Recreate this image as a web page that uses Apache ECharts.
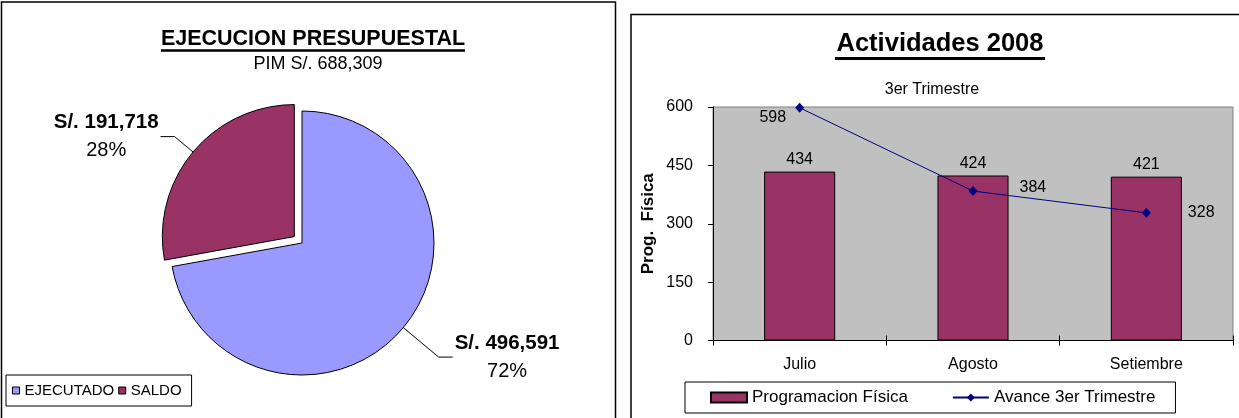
<!DOCTYPE html>
<html><head><meta charset="utf-8">
<script src="https://cdn.jsdelivr.net/npm/echarts@6/dist/echarts.min.js"></script>
<style>html,body{margin:0;padding:0;background:#fff}#c{width:1239px;height:418px}</style>
</head><body><div id="c"></div>
<script>
// ---- data ----
const pieNames = ['EJECUTADO', 'SALDO'];
const pieValues = [496591, 191718];
const months = ['Julio', 'Agosto', 'Setiembre'];
const programacion = [434, 424, 421];
const avance = [598, 384, 328];
const yTicks = [0, 150, 300, 450, 600];

// ---- styles ----
const FONT = '"Liberation Sans", Arial, sans-serif';
const pieColors = ['#9999FF', '#993366'];
const pieLineLen = [[46, 14], [24, 14]];
const avanceLabelStyle = [
  { position: 'left', distance: 9, offset: [0, 10] },
  { position: 'right', distance: 42, offset: [0, -3] },
  { position: 'right', distance: 37, offset: [0, 0] }
];

const chart = echarts.init(document.getElementById('c'));
chart.setOption({
  animation: false,
  textStyle: { fontFamily: FONT, color: '#000' },
  title: [
    { text: 'EJECUCION PRESUPUESTAL', left: 313, top: 28, textAlign: 'center', padding: 0,
      textStyle: { fontSize: 21.5, fontWeight: 'bold', color: '#000', fontFamily: FONT } },
    { text: 'PIM S/. 688,309', left: 318, top: 55, textAlign: 'center', padding: 0,
      textStyle: { fontSize: 18, fontWeight: 'normal', color: '#000', fontFamily: FONT } },
    { text: 'Actividades 2008', left: 940, top: 31, textAlign: 'center', padding: 0,
      textStyle: { fontSize: 25.5, fontWeight: 'bold', color: '#000', fontFamily: FONT } },
    { text: '3er Trimestre', left: 932, top: 82, textAlign: 'center', padding: 0,
      textStyle: { fontSize: 16, fontWeight: 'normal', color: '#000', fontFamily: FONT } }
  ],
  legend: [
    { data: pieNames, left: 6, top: 375, orient: 'horizontal', icon: 'rect',
      itemWidth: 7, itemHeight: 7, itemGap: 4,
      padding: [8, 10, 8, 6], borderColor: '#000', borderWidth: 1,
      itemStyle: { borderColor: '#000', borderWidth: 1 },
      textStyle: { fontSize: 15, color: '#000', fontFamily: FONT } },
    { data: [{ name: 'Programacion Física', icon: 'rect' }, { name: 'Avance 3er Trimestre' }],
      left: 685, top: 382, itemWidth: 36, itemHeight: 10, itemGap: 44,
      padding: [7, 20, 7, 25], borderColor: '#000', borderWidth: 1,
      textStyle: { fontSize: 17, color: '#000', fontFamily: FONT } }
  ],
  grid: { left: 713, right: 6, top: 107, height: 233.5, show: true,
    backgroundColor: '#C0C0C0', borderColor: '#808080', borderWidth: 1 },
  xAxis: [
    { type: 'category', data: months, boundaryGap: true,
      axisLine: { lineStyle: { color: '#000', width: 1 } },
      axisTick: { show: true, length: 5, lineStyle: { color: '#000' } },
      axisLabel: { fontSize: 16, color: '#000', margin: 16 } },
    { type: 'category', data: months, position: 'bottom', boundaryGap: true,
      axisLine: { show: false }, axisLabel: { show: false },
      axisTick: { show: true, inside: true, length: 5, lineStyle: { color: '#000' } } }
  ],
  yAxis: {
    type: 'value', min: yTicks[0], max: yTicks[yTicks.length - 1], interval: yTicks[1] - yTicks[0],
    name: 'Prog.  Física', nameLocation: 'middle', nameGap: 56,
    nameTextStyle: { fontSize: 17, fontWeight: 'bold', color: '#000' },
    axisLine: { show: true, lineStyle: { color: '#000' } },
    axisTick: { show: true, length: 5, lineStyle: { color: '#000' } },
    axisLabel: { fontSize: 16, color: '#000', margin: 20 },
    splitLine: { show: false }
  },
  series: [
    { type: 'pie', name: 'Ejecucion', center: [302, 243], radius: 132,
      startAngle: 90, clockwise: true, selectedMode: 'single', selectedOffset: 10,
      legendHoverLink: false,
      itemStyle: { borderColor: '#000', borderWidth: 1 },
      label: { show: true, position: 'outside', distanceToLabelLine: 2,
        formatter: p => '{a|S/. ' + p.value.toLocaleString('en-US') + '}\n{b|' + Math.round(p.percent) + '%}',
        rich: {
          a: { fontSize: 20.5, fontWeight: 'bold', align: 'center', lineHeight: 28, color: '#000', fontFamily: FONT },
          b: { fontSize: 20, align: 'center', lineHeight: 28, color: '#000', fontFamily: FONT }
        } },
      labelLine: { show: true, lineStyle: { color: '#000', width: 1 } },
      data: pieNames.map((n, i) => ({
        name: n, value: pieValues[i], selected: i === 1,
        itemStyle: { color: pieColors[i] },
        labelLine: { length: pieLineLen[i][0], length2: pieLineLen[i][1] }
      }))
    },
    { type: 'bar', name: 'Programacion Física', data: programacion, barWidth: '41%',
      itemStyle: { color: '#993366', borderColor: '#000', borderWidth: 1 },
      label: { show: true, position: 'top', distance: 4, fontSize: 16, color: '#000' } },
    { type: 'line', name: 'Avance 3er Trimestre', symbol: 'diamond', symbolSize: [9, 10],
      itemStyle: { color: '#000080' }, lineStyle: { color: '#000080', width: 1 },
      label: { show: true, fontSize: 16, color: '#000' },
      data: avance.map((v, i) => ({ value: v, label: avanceLabelStyle[i] })), z: 5 }
  ],
  graphic: [
    { type: 'rect', shape: { x: 1.5, y: 2, width: 614, height: 430 }, silent: true,
      style: { fill: 'none', stroke: '#000', lineWidth: 1.5 } },
    { type: 'rect', shape: { x: 631, y: 14.5, width: 620, height: 430 }, silent: true,
      style: { fill: 'none', stroke: '#000', lineWidth: 1.5 } },
    { type: 'line', shape: { x1: 161, y1: 50.5, x2: 465, y2: 50.5 }, silent: true,
      style: { stroke: '#000', lineWidth: 2.5 } },
    { type: 'line', shape: { x1: 835, y1: 58.5, x2: 1045, y2: 58.5 }, silent: true,
      style: { stroke: '#000', lineWidth: 3 } }
  ]
});
</script></body></html>
